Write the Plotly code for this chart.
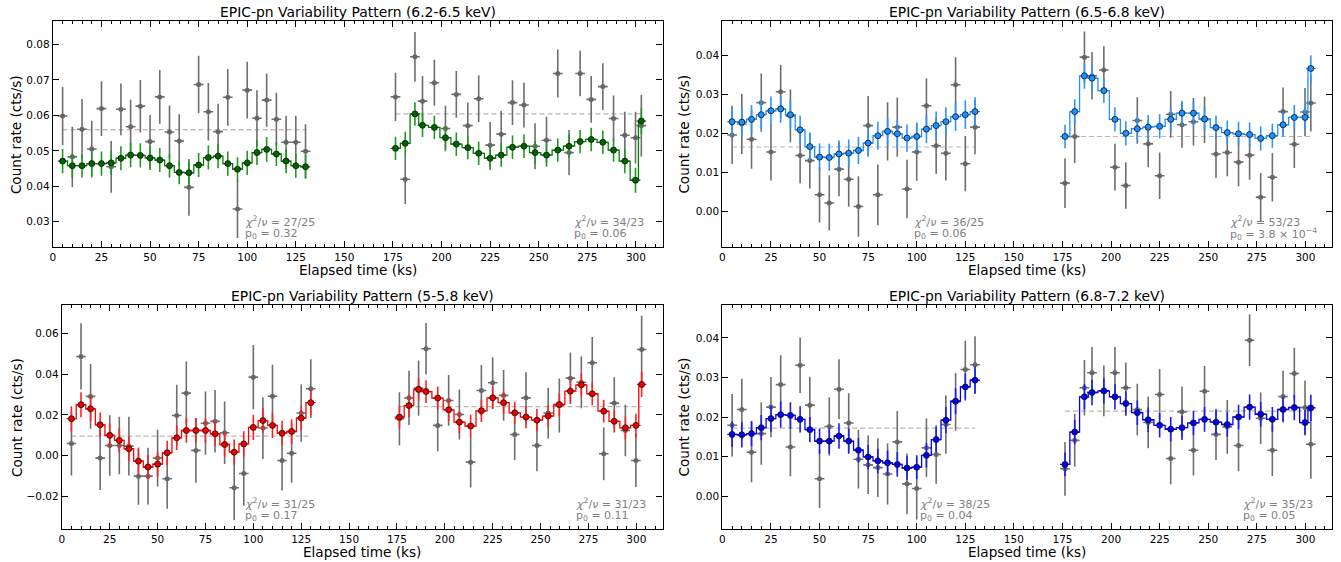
import plotly.graph_objects as go

# ---------------- data ----------------
t1 = [5, 10, 15, 20, 25, 30, 35, 40, 45, 50, 55, 60, 65, 70, 75, 80, 85, 90, 95, 100, 105, 110, 115, 120, 125, 130]
t2 = [176.3, 181.3, 186.3, 190.2, 196.3, 202.0, 207.6, 213.5, 219.1, 225.0, 230.7, 236.5,
      242.4, 248.1, 254.0, 259.8, 265.6, 271.3, 277.0, 283.0, 288.5, 294.3, 299.8, 302.8]

# Panel A: 6.2-6.5 keV
a_ref1 = [0.0598, 0.0483, 0.0561, 0.0505, 0.0619, 0.0455, 0.0617, 0.0568, 0.0626, 0.0526, 0.0652, 0.0553, 0.0528,
          0.0397, 0.0687, 0.0610, 0.0554, 0.0651, 0.0336, 0.0671, 0.0592, 0.0643, 0.0589, 0.0524, 0.0524, 0.0499]
a_ref1_err = [0.0082, 0.0085, 0.0085, 0.0080, 0.0077, 0.0073, 0.0073, 0.0076, 0.0074, 0.0075, 0.0076, 0.0075, 0.0075,
              0.0080, 0.0081, 0.0081, 0.0079, 0.0080, 0.0082, 0.0080, 0.0079, 0.0075, 0.0075, 0.0075, 0.0075, 0.0076]
a_ref2 = [0.0652, 0.0420, 0.0765, 0.0640, 0.0692, 0.0563, 0.0659, 0.0571, 0.0647, 0.0516, 0.0547, 0.0636,
          0.0629, 0.0513, 0.0530, 0.0718, 0.0495, 0.0718, 0.0645, 0.0681, 0.0591, 0.0544, 0.0537, 0.0571]
a_ref2_err = [0.0068, 0.0070, 0.0070, 0.0071, 0.0065, 0.0064, 0.0066, 0.0065, 0.0066, 0.0065, 0.0065, 0.0063,
              0.0063, 0.0065, 0.0066, 0.0068, 0.0064, 0.0064, 0.0066, 0.0066, 0.0065, 0.0066, 0.0073, 0.0087]
a_fit1 = [0.0471, 0.0458, 0.0458, 0.0464, 0.0464, 0.0466, 0.0479, 0.0488, 0.0487, 0.0480, 0.0474, 0.0458, 0.0439,
          0.0438, 0.0460, 0.0481, 0.0485, 0.0464, 0.0448, 0.0466, 0.0495, 0.0504, 0.0491, 0.0471, 0.0458, 0.0455]
a_fit1_err = [0.0034, 0.0033, 0.0033, 0.0034, 0.0034, 0.0034, 0.0034, 0.0034, 0.0034, 0.0034, 0.0034, 0.0034, 0.0033,
              0.0033, 0.0034, 0.0034, 0.0034, 0.0034, 0.0034, 0.0034, 0.0035, 0.0035, 0.0034, 0.0034, 0.0034, 0.0034]
a_fit2 = [0.0507, 0.0521, 0.0604, 0.0572, 0.0566, 0.0537, 0.0519, 0.0509, 0.0493, 0.0479, 0.0488, 0.0510,
          0.0513, 0.0495, 0.0488, 0.0502, 0.0513, 0.0526, 0.0532, 0.0524, 0.0502, 0.0471, 0.0417, 0.0584]
a_fit2_err = [0.0033, 0.0033, 0.0033, 0.0033, 0.0033, 0.0033, 0.0033, 0.0033, 0.0033, 0.0033, 0.0033, 0.0033,
              0.0033, 0.0033, 0.0033, 0.0033, 0.0033, 0.0033, 0.0033, 0.0033, 0.0033, 0.0034, 0.0035, 0.0036]
a_const = [0.0560, 0.0604]
a_chi = ["27/25", "34/23"]
a_p0 = ["0.32", "0.06"]

# Panel B: 6.5-6.8 keV
b_ref1 = [0.0196, 0.0224, 0.0185, 0.0279, 0.0152, 0.0307, 0.0245, 0.0143, 0.0130, 0.0042, 0.0021, 0.0108, 0.0082,
          0.0012, 0.0220, 0.0042, 0.0205, 0.0216, 0.0057, 0.0152, 0.0271, 0.0168, 0.0149, 0.0325, 0.0122, 0.0216]
b_ref1_err = [0.0075, 0.0077, 0.0076, 0.0075, 0.0073, 0.0069, 0.0068, 0.0071, 0.0072, 0.0071, 0.0071, 0.0070, 0.0071,
              0.0078, 0.0076, 0.0078, 0.0075, 0.0076, 0.0075, 0.0074, 0.0071, 0.0072, 0.0070, 0.0071, 0.0071, 0.0070]
b_ref2 = [0.0072, 0.0192, 0.0396, 0.0348, 0.0363, 0.0113, 0.0066, 0.0233, 0.0173, 0.0091, 0.0249, 0.0222,
          0.0230, 0.0235, 0.0147, 0.0151, 0.0126, 0.0144, 0.0036, 0.0087, 0.0256, 0.0172, 0.0255, 0.0278]
b_ref2_err = [0.0064, 0.0068, 0.0066, 0.0061, 0.0061, 0.0060, 0.0060, 0.0060, 0.0060, 0.0060, 0.0060, 0.0059,
              0.0061, 0.0060, 0.0062, 0.0061, 0.0062, 0.0063, 0.0062, 0.0062, 0.0062, 0.0061, 0.0062, 0.0073]
b_fit1 = [0.0230, 0.0229, 0.0236, 0.0248, 0.0258, 0.0263, 0.0248, 0.0209, 0.0166, 0.0139, 0.0138, 0.0147, 0.0149,
          0.0156, 0.0175, 0.0194, 0.0205, 0.0199, 0.0188, 0.0192, 0.0211, 0.0220, 0.0230, 0.0243, 0.0248, 0.0256]
b_fit1_err = [0.0038, 0.0038, 0.0037, 0.0037, 0.0037, 0.0036, 0.0036, 0.0036, 0.0035, 0.0035, 0.0035, 0.0035, 0.0035,
              0.0035, 0.0035, 0.0036, 0.0036, 0.0036, 0.0035, 0.0036, 0.0036, 0.0036, 0.0037, 0.0037, 0.0037, 0.0037]
b_fit2 = [0.0192, 0.0256, 0.0348, 0.0342, 0.0310, 0.0236, 0.0200, 0.0212, 0.0216, 0.0218, 0.0236, 0.0252,
          0.0252, 0.0237, 0.0215, 0.0202, 0.0199, 0.0197, 0.0187, 0.0194, 0.0222, 0.0241, 0.0241, 0.0367]
b_fit2_err = [0.0030, 0.0032, 0.0033, 0.0033, 0.0032, 0.0031, 0.0031, 0.0031, 0.0031, 0.0031, 0.0031, 0.0032,
              0.0032, 0.0031, 0.0031, 0.0031, 0.0031, 0.0031, 0.0031, 0.0031, 0.0031, 0.0032, 0.0032, 0.0034]
b_const = [0.0165, 0.0192]
b_chi = ["36/25", "53/23"]
b_p0 = ["0.06", "3.8 × 10<sup>−4</sup>"]

# Panel C: 5-5.8 keV
c_ref1 = [0.0059, 0.0488, 0.0291, -0.0013, 0.0049, 0.0049, 0.0046, -0.0102, -0.0102, -0.0013, -0.0115, 0.0197, 0.0307,
          0.0025, 0.0159, 0.0168, 0.0112, -0.0159, -0.0089, 0.0386, 0.0135, 0.0292, -0.0025, 0.0011, 0.0209, 0.0329]
c_ref1_err = [0.0158, 0.0163, 0.0160, 0.0157, 0.0149, 0.0142, 0.0145, 0.0141, 0.0140, 0.0140, 0.0148, 0.0151, 0.0156,
              0.0160, 0.0156, 0.0154, 0.0154, 0.0159, 0.0159, 0.0158, 0.0152, 0.0155, 0.0148, 0.0146, 0.0141, 0.0145]
c_ref2 = [0.0181, 0.0284, 0.0332, 0.0526, 0.0148, 0.0271, 0.0202, -0.0033, 0.0320, 0.0358, 0.0296, 0.0103,
          0.0284, 0.0049, 0.0209, 0.0246, 0.0381, 0.0361, 0.0457, 0.0008, 0.0258, 0.0123, -0.0025, 0.0522]
c_ref2_err = [0.0131, 0.0134, 0.0136, 0.0127, 0.0127, 0.0125, 0.0123, 0.0125, 0.0126, 0.0126, 0.0125, 0.0125,
              0.0126, 0.0127, 0.0125, 0.0133, 0.0127, 0.0128, 0.0127, 0.0130, 0.0127, 0.0127, 0.0131, 0.0167]
c_fit1 = [0.0181, 0.0250, 0.0230, 0.0151, 0.0099, 0.0074, 0.0033, -0.0028, -0.0057, -0.0043, 0.0013, 0.0087, 0.0123,
          0.0123, 0.0123, 0.0107, 0.0054, 0.0016, 0.0057, 0.0138, 0.0172, 0.0148, 0.0110, 0.0118, 0.0184, 0.0260]
c_fit1_err = [0.0062, 0.0062, 0.0061, 0.0061, 0.0060, 0.0060, 0.0060, 0.0060, 0.0059, 0.0059, 0.0060, 0.0060, 0.0061,
              0.0061, 0.0061, 0.0061, 0.0061, 0.0062, 0.0062, 0.0062, 0.0062, 0.0062, 0.0061, 0.0061, 0.0061, 0.0062]
c_fit2 = [0.0189, 0.0246, 0.0325, 0.0315, 0.0283, 0.0225, 0.0164, 0.0145, 0.0220, 0.0284, 0.0260, 0.0210,
          0.0189, 0.0174, 0.0194, 0.0251, 0.0317, 0.0348, 0.0304, 0.0218, 0.0168, 0.0136, 0.0148, 0.0350]
c_fit2_err = [0.0057, 0.0056, 0.0056, 0.0056, 0.0055, 0.0055, 0.0055, 0.0055, 0.0055, 0.0055, 0.0055, 0.0055,
              0.0055, 0.0055, 0.0055, 0.0056, 0.0056, 0.0056, 0.0056, 0.0056, 0.0055, 0.0056, 0.0058, 0.0062]
c_const = [0.0095, 0.0241]
c_chi = ["31/25", "31/23"]
c_p0 = ["0.17", "0.11"]

# Panel D: 6.8-7.2 keV
d_ref1 = [0.0179, 0.0219, 0.0111, 0.0158, 0.0225, 0.0282, 0.0124, 0.0331, 0.0230, 0.0044, 0.0176, 0.0270, 0.0185,
          0.0093, 0.0079, 0.0072, 0.0056, 0.0137, 0.0031, 0.0019, 0.0122, 0.0105, 0.0181, 0.0238, 0.0320, 0.0332]
d_ref1_err = [0.0079, 0.0078, 0.0076, 0.0079, 0.0076, 0.0074, 0.0074, 0.0070, 0.0072, 0.0074, 0.0074, 0.0076, 0.0075,
              0.0074, 0.0074, 0.0074, 0.0077, 0.0078, 0.0077, 0.0078, 0.0074, 0.0074, 0.0074, 0.0073, 0.0073, 0.0072]
d_ref2 = [0.0069, 0.0141, 0.0274, 0.0312, 0.0266, 0.0312, 0.0274, 0.0219, 0.0186, 0.0257, 0.0095, 0.0213,
          0.0116, 0.0265, 0.0156, 0.0175, 0.0128, 0.0394, 0.0197, 0.0116, 0.0252, 0.0310, 0.0224, 0.0131]
d_ref2_err = [0.0068, 0.0067, 0.0070, 0.0065, 0.0064, 0.0065, 0.0064, 0.0065, 0.0065, 0.0064, 0.0065, 0.0064,
              0.0064, 0.0064, 0.0065, 0.0068, 0.0065, 0.0065, 0.0065, 0.0065, 0.0065, 0.0065, 0.0068, 0.0087]
d_fit1 = [0.0156, 0.0155, 0.0158, 0.0173, 0.0196, 0.0206, 0.0204, 0.0194, 0.0168, 0.0139, 0.0139, 0.0152, 0.0139,
          0.0116, 0.0099, 0.0089, 0.0084, 0.0080, 0.0071, 0.0073, 0.0103, 0.0143, 0.0192, 0.0240, 0.0276, 0.0293]
d_fit1_err = [0.0032, 0.0032, 0.0032, 0.0032, 0.0033, 0.0033, 0.0033, 0.0033, 0.0032, 0.0032, 0.0032, 0.0032, 0.0032,
              0.0031, 0.0031, 0.0031, 0.0031, 0.0031, 0.0030, 0.0030, 0.0031, 0.0032, 0.0033, 0.0033, 0.0034, 0.0034]
d_fit2 = [0.0080, 0.0162, 0.0251, 0.0262, 0.0266, 0.0251, 0.0234, 0.0211, 0.0193, 0.0179, 0.0169, 0.0173,
          0.0185, 0.0194, 0.0187, 0.0181, 0.0200, 0.0225, 0.0207, 0.0194, 0.0219, 0.0224, 0.0186, 0.0223]
d_fit2_err = [0.0030, 0.0031, 0.0032, 0.0032, 0.0032, 0.0032, 0.0031, 0.0031, 0.0031, 0.0031, 0.0031, 0.0031,
              0.0031, 0.0031, 0.0031, 0.0031, 0.0031, 0.0032, 0.0031, 0.0031, 0.0031, 0.0032, 0.0032, 0.0033]
d_const = [0.0172, 0.0215]
d_chi = ["38/25", "35/23"]
d_p0 = ["0.04", "0.05"]

titles = ["EPIC-pn Variability Pattern (6.2-6.5 keV)", "EPIC-pn Variability Pattern (6.5-6.8 keV)",
          "EPIC-pn Variability Pattern (5-5.8 keV)", "EPIC-pn Variability Pattern (6.8-7.2 keV)"]

# ---------------- style / layout ----------------
W, H = 1341, 562
FONT = "DejaVu Sans"
GRAY = "#666666"
GRAY_ERR = "#6e6e6e"

panels = [
    dict(ref=(a_ref1, a_ref2), ref_err=(a_ref1_err, a_ref2_err), fit=(a_fit1, a_fit2), fit_err=(a_fit1_err, a_fit2_err),
         const=a_const, chi=a_chi, p0=a_p0, title=titles[0],
         box=(50, 661, 21, 247.3), yr=(0.0228, 0.0866), dt=0.01,
         mfill="#006400", lcol="#008000", ecol="#1f9a1f", ann_x=(97.9, 267.3), ytx=13),
    dict(ref=(b_ref1, b_ref2), ref_err=(b_ref1_err, b_ref2_err), fit=(b_fit1, b_fit2), fit_err=(b_fit1_err, b_fit2_err),
         const=b_const, chi=b_chi, p0=b_p0, title=titles[1],
         box=(721, 1332, 21, 247.3), yr=(-0.0093, 0.0489), dt=0.01,
         mfill="#1e90ff", lcol="#1e90ff", ecol="#2b95ff", ann_x=(97.4, 260.1), ytx=683),
    dict(ref=(c_ref1, c_ref2), ref_err=(c_ref1_err, c_ref2_err), fit=(c_fit1, c_fit2), fit_err=(c_fit1_err, c_fit2_err),
         const=c_const, chi=c_chi, p0=c_p0, title=titles[2],
         box=(59, 661, 304.7, 529.3), yr=(-0.0364, 0.0743), dt=0.02,
         mfill="#ee0000", lcol="#ff0000", ecol="#ff2020", ann_x=(94.7, 267.5), ytx=14),
    dict(ref=(d_ref1, d_ref2), ref_err=(d_ref1_err, d_ref2_err), fit=(d_fit1, d_fit2), fit_err=(d_fit1_err, d_fit2_err),
         const=d_const, chi=d_chi, p0=d_p0, title=titles[3],
         box=(721, 1332, 304.7, 529.3), yr=(-0.0084, 0.0484), dt=0.01,
         mfill="#0000ee", lcol="#0000ff", ecol="#1a1aff", ann_x=(100.5, 267.1), ytx=683),
]

fig = go.Figure()
annotations = []
layout = dict(width=W, height=H, margin=dict(l=0, r=0, t=0, b=0),
              paper_bgcolor="white", plot_bgcolor="white", showlegend=False,
              font=dict(family=FONT, size=10, color="black"))

XMAX = 313.7
STAT_FONT = dict(family=FONT, size=11, color="#808080")
for i, p in enumerate(panels):
    sfx = "" if i == 0 else str(i + 1)
    xa, ya = "x" + sfx, "y" + sfx
    x0, x1, y0, y1 = p["box"]
    axis_common = dict(showline=True, linecolor="black", linewidth=1.2, mirror="allticks",
                       ticks="inside", ticklen=6, tickwidth=1, tickcolor="black",
                       showgrid=False, zeroline=False, tickfont=dict(family=FONT, size=10.5, color="black"))
    layout["xaxis" + sfx] = dict(axis_common, domain=[x0 / W, x1 / W], anchor=ya, range=[0, XMAX],
                                 tick0=0, dtick=25,
                                 minor=dict(ticks="inside", dtick=5, tick0=0, ticklen=3, tickwidth=1, tickcolor="black"))
    layout["yaxis" + sfx] = dict(axis_common, domain=[1 - y1 / H, 1 - y0 / H], anchor=xa, range=list(p["yr"]),
                                 tick0=0, dtick=p["dt"], tickformat=".2f")

    for s, t in enumerate((t1, t2)):
        c = p["const"][s]
        fig.add_trace(go.Scatter(x=[t[0], t[-1]], y=[c, c], mode="lines", xaxis=xa, yaxis=ya,
                                 line=dict(color="#b8b8b8", width=1.2, dash="5px,3px"), hoverinfo="skip"))
        fig.add_trace(go.Scatter(x=t, y=p["ref"][s], mode="markers", xaxis=xa, yaxis=ya,
                                 marker=dict(color=GRAY, size=5, line=dict(width=0)),
                                 error_y=dict(type="data", array=p["ref_err"][s], color=GRAY_ERR, thickness=1.6, width=0),
                                 error_x=dict(type="constant", value=2.5, color=GRAY_ERR, thickness=1.6, width=0)))
        fig.add_trace(go.Scatter(x=t, y=p["fit"][s], mode="lines+markers", xaxis=xa, yaxis=ya,
                                 line=dict(shape="hvh", color=p["lcol"], width=1.3),
                                 marker=dict(color=p["mfill"], size=6, line=dict(color="#101010", width=0.8)),
                                 error_y=dict(type="data", array=p["fit_err"][s], color=p["ecol"], thickness=1.6, width=0),
                                 error_x=dict(type="constant", value=2.5, color=p["lcol"], thickness=1.3, width=0)))
        # stats text
        hgt = y1 - y0
        annotations.append(dict(xref=xa, yref=ya + " domain", x=p["ann_x"][s], y=26.0 / hgt,
                                xanchor="left", yanchor="middle", showarrow=False,
                                text="<i>χ</i><sup>2</sup>/<i>ν</i> = " + p["chi"][s], font=STAT_FONT))
        annotations.append(dict(xref=xa, yref=ya + " domain", x=p["ann_x"][s], y=13.0 / hgt,
                                xanchor="left", yanchor="middle", showarrow=False,
                                text="p<sub>0</sub> = " + p["p0"][s], font=STAT_FONT))

    # panel title
    annotations.append(dict(xref="paper", yref="paper", x=(x0 + x1) / 2 / W, y=1 - (y0 - 8.5) / H,
                            xanchor="center", yanchor="middle", showarrow=False, text=p["title"],
                            font=dict(family=FONT, size=13.9, color="black")))
    # x title
    annotations.append(dict(xref="paper", yref="paper", x=(x0 + x1) / 2 / W, y=1 - (y1 + 22.5) / H,
                            xanchor="center", yanchor="middle", showarrow=False, text="Elapsed time (ks)",
                            font=dict(family=FONT, size=13.6, color="black")))
    # y title
    annotations.append(dict(xref="paper", yref="paper", x=p["ytx"] / W, y=1 - (y0 + y1) / 2 / H,
                            xanchor="center", yanchor="middle", showarrow=False, text="Count rate (cts/s)",
                            textangle=-90, font=dict(family=FONT, size=13.6, color="black")))

layout["annotations"] = annotations
fig.update_layout(**layout)

fig.write_html("out.html", config={"displayModeBar": False},
               post_script="document.body.style.margin='0px';")
